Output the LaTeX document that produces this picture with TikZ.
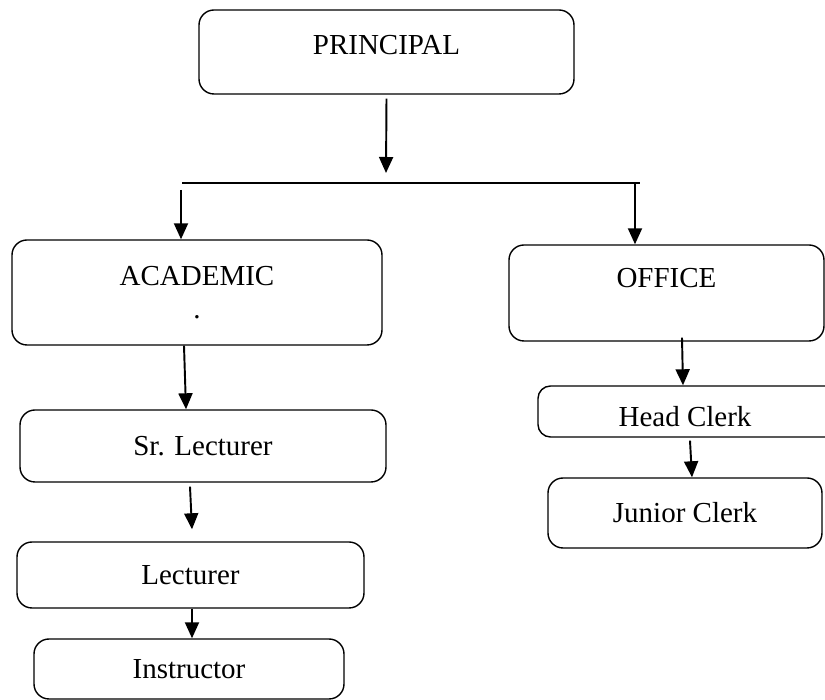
\documentclass[tikz,border=0pt]{standalone}
\usepackage{fontspec}
\setmainfont{Liberation Serif}
\usetikzlibrary{arrows.meta}
\begin{document}
\begin{tikzpicture}[every node/.style={font=\fontsize{16.5}{19}\selectfont},
        box/.style={draw, rounded corners=0.3cm, line width=0.8pt, align=center},
        arr/.style={-{Triangle[length=0.32cm,width=0.28cm]}, line width=1.1pt}]
            \useasboundingbox (0,0) rectangle (16.5,14);

            \node[box, minimum width=7.5cm, minimum height=1.68cm, text depth=0.28cm] (principal) at (7.73,12.96) {PRINCIPAL};
            \node[box, minimum width=7.4cm, minimum height=2.1cm] (academic) at (3.94,8.15) {ACADEMIC\\.};
            \node[box, minimum width=6.3cm, minimum height=1.92cm, text depth=0.6cm] (office) at (13.33,8.14) {OFFICE};
            \node[box, minimum width=7.32cm, minimum height=1.44cm] (srlect) at (4.06,5.08) {Sr. Lecturer};
            \node[box, minimum width=6.94cm, minimum height=1.32cm] (lect) at (3.81,2.5) {Lecturer};
            \node[box, minimum width=6.2cm, minimum height=1.2cm] (instr) at (3.78,0.62) {Instructor};
            % runs off the right edge of the page
            \node[box, rounded corners=0.25cm, minimum width=6.52cm, minimum height=1.02cm, text height=0.6cm] (headclerk) at (14.02,5.77) {Head Clerk\hspace*{0.64cm}};
            \node[box, minimum width=5.48cm, minimum height=1.4cm] (jrclerk) at (13.7,3.74) {Junior Clerk};

            \coordinate (barL) at (3.64,10.34);
            \coordinate (barR) at (12.8,10.34);
            \coordinate (barM) at (7.72,10.54);
            \coordinate (barA) at (3.62,10.2);
            \coordinate (barO) at (12.7,10.34);

            \draw[line width=0.8pt] (barL) -- (barR);
            \draw[arr] ([yshift=-0.08cm]principal.south) -- (barM);
            \draw[arr] (barA) -- ([xshift=-0.32cm]academic.north);
            \draw[arr] (barO) -- ([xshift=-0.63cm]office.north);

            \draw[arr] ([xshift=-0.26cm]academic.south) -- ([xshift=-0.34cm]srlect.north);
            \draw[arr] ([xshift=-0.26cm,yshift=-0.08cm]srlect.south) -- ([xshift=0.03cm,yshift=0.24cm]lect.north);
            \draw[arr] ([xshift=0.03cm]lect.south) -- ([xshift=0.06cm]instr.north);

            \draw[arr] ([xshift=0.31cm,yshift=0.08cm]office.south) -- ([xshift=-0.36cm]headclerk.north);
            \draw[arr] ([xshift=-0.22cm,yshift=-0.06cm]headclerk.south) -- ([xshift=0.14cm]jrclerk.north);
        \end{tikzpicture}
\end{document}
